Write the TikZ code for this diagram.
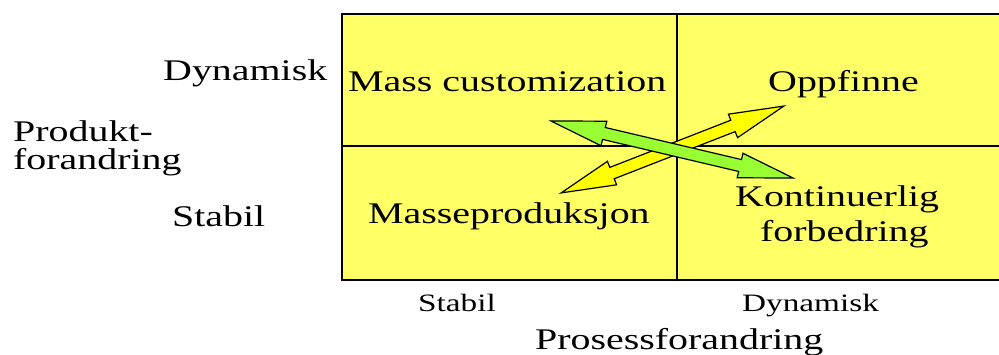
\documentclass[tikz,border=0pt]{standalone}
\usepackage{fontspec}
\setmainfont{Liberation Serif}[FakeStretch=1.33]
\usetikzlibrary{shapes.arrows}

\definecolor{quadyellow}{RGB}{255,255,102}
\definecolor{arrowgreen}{RGB}{153,255,51}
\definecolor{arrowyellow}{RGB}{255,255,0}

\tikzset{
	bigtxt/.style={anchor=base west, inner sep=0pt, font=\fontsize{30}{34}\selectfont},
	smalltxt/.style={anchor=base west, inner sep=0pt, font=\fontsize{25}{29}\selectfont},
	dblarrow/.style={double arrow, draw=black, line width=1.2pt, inner xsep=0pt, inner ysep=5.5pt,
		double arrow head extend=6.5pt, double arrow tip angle=26},
}

\begin{document}
\begin{tikzpicture}[x=1pt, y=1pt]
	\clip (0,0) rectangle (999,355);

	% matrix
	\filldraw[fill=quadyellow, line width=1.2pt] (342,75) rectangle (1003,341);
	\draw[line width=1.2pt] (677,75) -- (677,341);
	\draw[line width=1.2pt] (342,209) -- (1003,209);

	% quadrants
	\node[bigtxt] (massCust) at (348,263) {Mass customization};
	\node[bigtxt] (oppfinne) at (768,263) {Oppfinne};
	\node[bigtxt] (masseProd) at (368,131) {Masseproduksjon};
	\node[bigtxt] (kontin) at (735,148) {Kontinuerlig};
	\node[bigtxt] (forbedr) at (760,113) {forbedring};

	% product axis
	\node[bigtxt] (prodDyn) at (163,274) {Dynamisk};
	\node[bigtxt] (prodLabA) at (13,213) {Produkt-};
	\node[bigtxt] (prodLabB) at (13,185) {forandring};
	\node[bigtxt] (prodStab) at (172,128) {Stabil};

	% process axis
	\node[smalltxt] (procStab) at (418,43) {Stabil};
	\node[smalltxt] (procDyn) at (742,43) {Dynamisk};
	\node[bigtxt] (procLab) at (535,5) {Prosessforandring};

	% arrows
	\node[dblarrow, fill=arrowyellow, rotate=21.3, minimum height=239pt] (yellowArr) at (672.5,205.5) {};
	\node[dblarrow, fill=arrowgreen, rotate=-13.25, minimum height=249pt] (greenArr) at (672,205.5) {};
\end{tikzpicture}
\end{document}
